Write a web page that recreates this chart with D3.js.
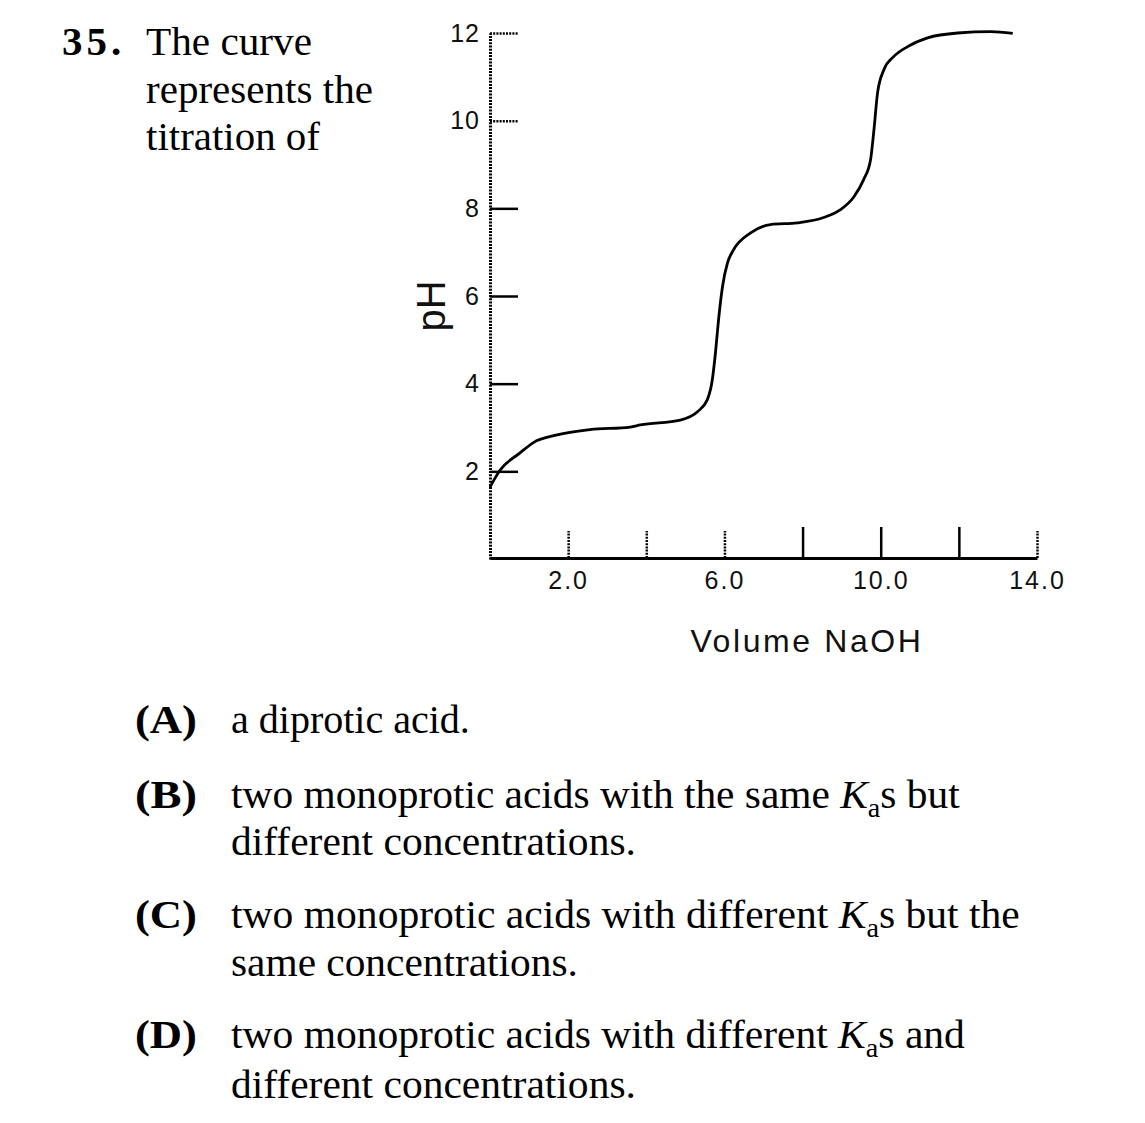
<!DOCTYPE html>
<html><head><meta charset="utf-8">
<script src="https://cdn.jsdelivr.net/npm/d3@7"></script>
<style>
html,body{margin:0;padding:0;background:#fff;}
svg{display:block;}
</style>
</head><body>
<svg id="c" width="1145" height="1123"></svg>
<script>
// ---- data ----
const volumeNaOH = [0, 0.26, 0.77, 1.10, 1.72, 2.56, 3.59, 3.85, 4.87, 5.31, 5.56, 5.69, 5.77, 5.85, 5.95, 6.08, 6.23, 6.67, 7.18, 7.87, 8.54, 8.97, 9.31, 9.56, 9.74, 9.82, 9.92, 10.08, 10.33, 10.69, 11.2, 11.97, 12.82, 13.38];
const pHValues = [1.64, 2.03, 2.42, 2.65, 2.83, 2.95, 3.01, 3.06, 3.17, 3.36, 3.63, 4.09, 4.70, 5.46, 6.21, 6.76, 7.05, 7.44, 7.63, 7.67, 7.79, 7.97, 8.26, 8.65, 9.11, 9.73, 10.64, 11.16, 11.46, 11.69, 11.89, 12.0, 12.03, 11.99];
const xTicks = [2, 4, 6, 8, 10, 12, 14];
const xTickLabels = ["2.0", "", "6.0", "", "10.0", "", "14.0"];
const yTicks = [2, 4, 6, 8, 10, 12];
const yTickLabels = ["2", "4", "6", "8", "10", "12"];
const xTitle = "Volume NaOH";
const yTitle = "pH";
const questionNumber = "35.";
const questionLines = ["The curve", "represents the", "titration of"];
const optionLetters = ["(A)", "(B)", "(C)", "(D)"];
const optionLines = [
  [[{t:"a diprotic acid."}]],
  [[{t:"two monoprotic acids with the same "},{t:"K",i:1},{t:"a",sub:1},{t:"s but"}],
   [{t:"different concentrations."}]],
  [[{t:"two monoprotic acids with different "},{t:"K",i:1},{t:"a",sub:1},{t:"s but the"}],
   [{t:"same concentrations."}]],
  [[{t:"two monoprotic acids with different "},{t:"K",i:1},{t:"a",sub:1},{t:"s and"}],
   [{t:"different concentrations."}]]
];

// ---- layout ----
const svg = d3.select("#c");
const x = d3.scaleLinear().domain([0, 14]).range([490, 1037]);
const y = d3.scaleLinear().domain([0, 12]).range([559, 33]);
const serif = "'Liberation Serif','Times New Roman',serif";
const sans = "'Liberation Sans',Arial,sans-serif";

function fitText(parts, x0, base, width, size, bold) {
  const t = svg.append("text").attr("font-family", serif).attr("font-size", size)
    .attr("fill", "#000").attr("font-weight", bold ? "bold" : "normal");
  let shifted = false;
  parts.forEach(p => {
    const s = t.append("tspan").text(p.t);
    if (p.i) s.attr("font-style", "italic");
    if (p.sub) { s.attr("font-size", size * 0.68).attr("dy", 9); shifted = true; }
    else if (shifted) { s.attr("dy", -9); shifted = false; }
  });
  const w = t.node().getComputedTextLength();
  const sx = width / w;
  t.attr("transform", `translate(${x0},${base}) scale(${sx},1)`);
  return t;
}

// header
svg.append("text").attr("font-family", serif).attr("font-size", 41).attr("font-weight", "bold")
  .attr("letter-spacing", 4).attr("x", 62).attr("y", 55).text(questionNumber);
const qWidths = [166, 227, 174];
questionLines.forEach((l, i) => fitText([{t: l}], 146, 55 + i * 47.5, qWidths[i], 41, false));

// options
const optBase = [[733], [808, 855], [928, 976], [1048, 1098]];
const optWidths = [[239], [729, 405], [789, 347], [734, 405]];
optionLetters.forEach((L, i) => {
  fitText([{t: L}], 135, optBase[i][0], 62, 41, true);
  optionLines[i].forEach((parts, j) => fitText(parts, 231, optBase[i][j], optWidths[i][j], 41, false));
});

// ---- axes ----
const wavy = "2 1.2";
const yAxis = d3.axisLeft(y).tickValues(yTicks).tickFormat((d, i) => yTickLabels[i])
  .tickSizeInner(-28).tickSizeOuter(0).tickPadding(10);
const gy = svg.append("g").attr("transform", `translate(${x(0)},0)`).call(yAxis);
gy.select(".domain").attr("stroke", "#000").attr("stroke-width", 3).attr("stroke-dasharray", wavy);
gy.selectAll(".tick line").attr("stroke", "#000").attr("stroke-width", 2.5)
  .attr("stroke-dasharray", d => d >= 10 ? wavy : null);
gy.selectAll(".tick text").attr("font-family", sans).attr("font-size", 25).attr("fill", "#111")
  .attr("letter-spacing", 1);

const xAxis = d3.axisBottom(x).tickValues(xTicks).tickFormat((d, i) => xTickLabels[i])
  .tickSizeInner(-28).tickSizeOuter(0).tickPadding(10);
const gx = svg.append("g").attr("transform", `translate(0,${y(0) - 1})`).call(xAxis);
gx.select(".domain").attr("stroke", "#000").attr("stroke-width", 2.8);
gx.selectAll(".tick line").attr("stroke", "#000").attr("stroke-width", 2.5)
  .attr("stroke-dasharray", d => (d >= 8 && d <= 12) ? null : wavy)
  .attr("y2", d => (d >= 8 && d <= 12) ? -31 : -27);
gx.selectAll(".tick text").attr("font-family", sans).attr("font-size", 25).attr("fill", "#111")
  .attr("letter-spacing", 2).attr("dy", "0.85em");

// axis titles
svg.append("text").attr("font-family", sans).attr("font-size", 32).attr("fill", "#111")
  .attr("text-anchor", "middle").attr("letter-spacing", 2.6)
  .attr("x", 807).attr("y", 652).text(xTitle);
svg.append("text").attr("font-family", sans).attr("font-size", 40).attr("fill", "#111")
  .attr("text-anchor", "middle")
  .attr("transform", `translate(445,306) rotate(-90)`).text(yTitle);

// ---- curve ----
const data = volumeNaOH.map((v, i) => [v, pHValues[i]]);
svg.append("path").datum(data)
  .attr("fill", "none").attr("stroke", "#000").attr("stroke-width", 2.8)
  .attr("stroke-linejoin", "round")
  .attr("d", d3.line().x(d => x(d[0])).y(d => y(d[1])).curve(d3.curveMonotoneX));
</script>
</body></html>
